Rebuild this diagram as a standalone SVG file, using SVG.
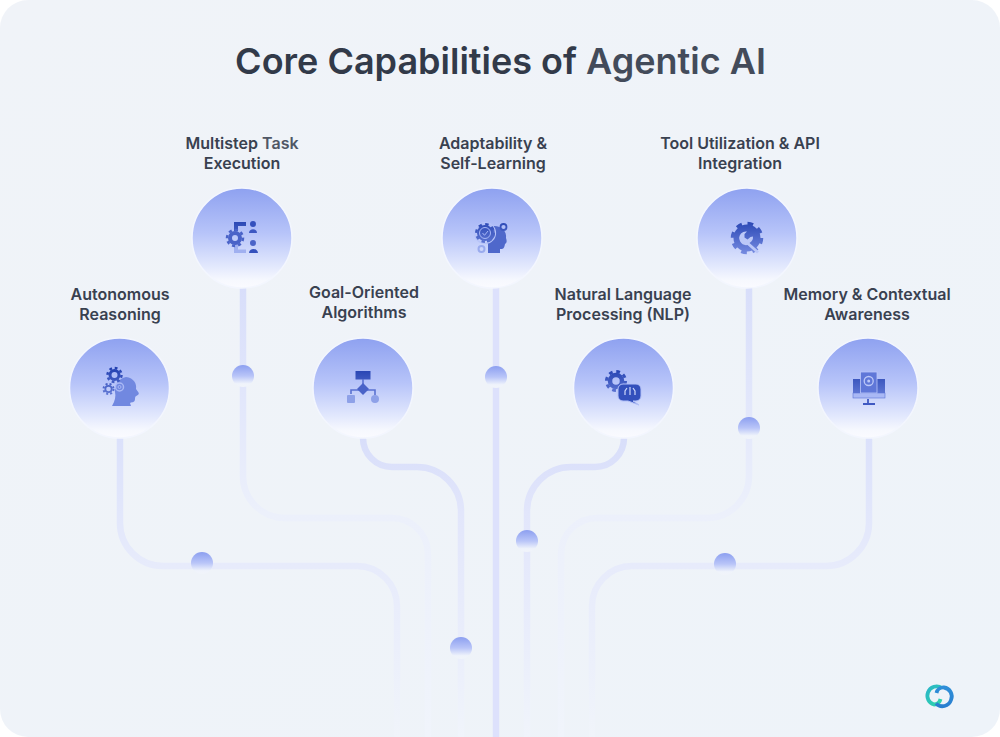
<svg xmlns="http://www.w3.org/2000/svg" width="1000" height="737" viewBox="0 0 1000 737">
<style>
text{font-family:Inter,"Noto Sans","Liberation Sans",sans-serif;font-weight:600;text-anchor:middle}
.label{font-size:16px;fill:#394150}
.title{font-size:36px;fill:#323a49}
.disc{fill:url(#disc);stroke:#f3f6fe;stroke-width:1.500}
.dot{fill:url(#dotg)}
.line{fill:none;stroke-width:6.500}
.lt{fill:url(#icT)}
.lb{fill:url(#icB)}
.st{stroke:url(#icT);fill:none}
.sb{stroke:url(#icB);fill:none}
</style>
<defs>
<linearGradient id="bg" x1="0" y1="0" x2="1" y2="1"><stop offset="0" stop-color="#f0f3f8"/><stop offset="1" stop-color="#eef3f9"/></linearGradient>
<linearGradient id="disc" x1="0" y1="0" x2="0" y2="1"><stop offset="0" stop-color="#8ea1f0"/><stop offset=".45" stop-color="#b7c4f9"/><stop offset=".78" stop-color="#e2e8fd"/><stop offset=".92" stop-color="#f6f8fe"/><stop offset="1" stop-color="#fafbff"/></linearGradient>
<linearGradient id="dotg" x1="0" y1="0" x2="0" y2="1"><stop offset="0" stop-color="#8c9ff0"/><stop offset=".5" stop-color="#b9c5f8"/><stop offset=".85" stop-color="#eff3fb"/><stop offset="1" stop-color="#f1f4fa"/></linearGradient>
<linearGradient id="icT" gradientUnits="userSpaceOnUse" x1="0" y1="218" x2="0" y2="258"><stop offset="0" stop-color="#2240b0"/><stop offset="1" stop-color="#7f93e6"/></linearGradient>
<linearGradient id="icB" gradientUnits="userSpaceOnUse" x1="0" y1="368" x2="0" y2="408"><stop offset="0" stop-color="#2240b0"/><stop offset="1" stop-color="#7f93e6"/></linearGradient>
<linearGradient id="c1" gradientUnits="userSpaceOnUse" x1="0" y1="438" x2="0" y2="737"><stop offset="0" stop-color="#dbe1fb"/><stop offset=".43" stop-color="#e7ebfb"/><stop offset=".7" stop-color="#ebeffb"/><stop offset="1" stop-color="#f0f4fa"/></linearGradient>
<linearGradient id="c2" gradientUnits="userSpaceOnUse" x1="0" y1="288" x2="0" y2="737"><stop offset="0" stop-color="#d8defa"/><stop offset=".2" stop-color="#e0e5fb"/><stop offset=".5" stop-color="#ecf0fb"/><stop offset="1" stop-color="#f0f4fb"/></linearGradient>
<linearGradient id="c3" gradientUnits="userSpaceOnUse" x1="0" y1="438" x2="0" y2="737"><stop offset="0" stop-color="#d8defa"/><stop offset=".25" stop-color="#e2e6fb"/><stop offset=".7" stop-color="#eaeefb"/><stop offset="1" stop-color="#f0f4fb"/></linearGradient>
<linearGradient id="lg1" x1="0" y1="0" x2="1" y2="1"><stop offset="0" stop-color="#2ab5c8"/><stop offset="1" stop-color="#2fd8a8"/></linearGradient>
<linearGradient id="lg2" x1="0" y1="0" x2="0" y2="1"><stop offset="0" stop-color="#2f8fd8"/><stop offset="1" stop-color="#2a7fd0"/></linearGradient>
</defs>

<rect width="1000" height="737" fill="#ffffff"/>
<rect width="1000" height="737" rx="28" fill="url(#bg)"/>

<text class="title" x="500.500" y="74">Core Capabilities of <tspan fill="#434b5a">Agentic AI</tspan></text>

<g id="connectors">
<path class="line" stroke="url(#c1)" d="M120 438V523A43 43 0 0 0 163 566H357A40 40 0 0 1 397 606V737"/>
<path class="line" stroke="url(#c2)" d="M243 288V476A42 42 0 0 0 285 518H392A36 36 0 0 1 428 554V737"/>
<path class="line" stroke="url(#c3)" d="M363 438A29 29 0 0 0 392 467H417A44 44 0 0 1 461 511V737"/>
<path class="line" stroke="#dde1fc" d="M496 288V737"/>
<path class="line" stroke="url(#c3)" d="M624 438A29 29 0 0 1 595 467H571A44 44 0 0 0 527 511V737"/>
<path class="line" stroke="url(#c2)" d="M749 288V476A42 42 0 0 1 707 518H597A36 36 0 0 0 561 554V737"/>
<path class="line" stroke="url(#c1)" d="M869 438V523A43 43 0 0 1 826 566H632A40 40 0 0 0 592 606V737"/>
<circle class="dot" cx="202" cy="563" r="11"/>
<circle class="dot" cx="243" cy="376" r="11"/>
<circle class="dot" cx="496" cy="377" r="11"/>
<circle class="dot" cx="461" cy="648" r="11"/>
<circle class="dot" cx="527" cy="541" r="11"/>
<circle class="dot" cx="749" cy="428" r="11"/>
<circle class="dot" cx="725" cy="564" r="11"/>
</g>

<g id="node-autonomous-reasoning">
<circle class="disc" cx="119.500" cy="388" r="50"/>
<path d="M126 377C134 378 137 384 136 389C138 392 140 393 138 395C136 396 135 396 135 399C135 403 131 402 130 403L131 406H112C115 401 116 396 115 392C114 386 119 378 126 377Z" fill="#7188e0"/>
<circle class="sb" cx="114.500" cy="375" r="7" stroke-width="2.500" stroke-dasharray="2.750"/>
<circle class="sb" cx="114.500" cy="375" r="4.500" stroke-width="3"/>
<circle class="sb" cx="108.500" cy="389" r="5" stroke-width="2" stroke-dasharray="2"/>
<circle class="sb" cx="108.500" cy="389" r="3.200" stroke-width="1.800"/>
<circle cx="119.500" cy="387" r="4" fill="none" stroke="#a9b8f5" stroke-width="1.500"/>
<circle cx="119.500" cy="387" r="1.500" fill="none" stroke="#a9b8f5"/>
<text class="label"><tspan x="120" y="300">Autonomous</tspan><tspan x="120" y="320">Reasoning</tspan></text>
</g>

<g id="node-multistep-task-execution">
<circle class="disc" cx="242" cy="238" r="50"/>
<path class="lt" d="M234 222H246V226H238V231H234Z"/>
<path d="M234 244H238V249.500H246V253H234Z" fill="#a0b0f0"/>
<circle cx="235" cy="238" r="8" fill="none" stroke="#4a63c8" stroke-width="2.500" stroke-dasharray="3.100"/>
<circle cx="235" cy="238" r="5" fill="none" stroke="#4a63c8" stroke-width="4"/>
<circle cx="253" cy="224" r="3" fill="#3551bd"/>
<path d="M249 233C249 228 257 228 257 233Z" fill="#3d58c2"/>
<circle cx="253" cy="243" r="3" fill="#4a63c8"/>
<path d="M249 253C249 247.500 258 247.500 258 253Z" fill="#3551bd"/>
<text class="label"><tspan x="242" y="149">Multistep <tspan fill="#4f5765">Task</tspan></tspan><tspan x="242" y="169">Execution</tspan></text>
</g>

<g id="node-goal-oriented-algorithms">
<circle class="disc" cx="363" cy="388" r="50"/>
<rect class="lb" x="355.500" y="371" width="15" height="8.500"/>
<path d="M363 379V384M351 394V390H375V395" fill="none" stroke="#5a72d2" stroke-width="1.600"/>
<path d="M363 383L369 389L363 395L357 389Z" fill="#4a63c8"/>
<rect x="347" y="395" width="8" height="8" rx="1" fill="#8ea1e8"/>
<circle cx="375" cy="399" r="4" fill="#8ea1e8"/>
<text class="label"><tspan x="364" y="298">Goal-Oriented</tspan><tspan x="364" y="318">Algorithms</tspan></text>
</g>

<g id="node-adaptability-self-learning">
<circle class="disc" cx="492" cy="238" r="50"/>
<path d="M494 226C502 226 507 232 506 238C507 241 507 243 505 244C504 249 503 249 500 249V253H488V244C485 240 488 228 494 226Z" fill="#4f68cb"/>
<circle cx="485" cy="233" r="10.500" fill="none" stroke="#b6c3f8" stroke-width="1.200"/>
<circle class="st" cx="485" cy="233" r="8.800" stroke-width="2.400" stroke-dasharray="3.450"/>
<circle class="lt" cx="485" cy="233" r="8"/>
<circle cx="485" cy="233" r="5.500" fill="none" stroke="#a7b7f6" stroke-width="1"/>
<path d="M482.500 233L484.500 235.300L488 231" fill="none" stroke="#a7b7f6" stroke-width="1"/>
<circle class="st" cx="503.500" cy="227" r="3" stroke-width="1.800"/>
<circle cx="481.500" cy="249" r="3" fill="none" stroke="#9aabee" stroke-width="2"/>
<text class="label"><tspan x="493" y="149">Adaptability &amp;</tspan><tspan x="493" y="169">Self-Learning</tspan></text>
</g>

<g id="node-natural-language-processing">
<circle class="disc" cx="623.500" cy="388" r="50"/>
<circle class="sb" cx="616" cy="381" r="9.500" stroke-width="3" stroke-dasharray="3.730"/>
<circle class="sb" cx="616" cy="381" r="6" stroke-width="4.500"/>
<path d="M623 384H636A5 5 0 0 1 641 389V396A5 5 0 0 1 636 401H633L639 405L628 401H623A5 5 0 0 1 618 396V389A5 5 0 0 1 623 384Z" fill="#3350bc" stroke="#b3c0f7"/>
<path d="M625 395V391L627 388M630 395V387M635 395V391L633 388" fill="none" stroke="#cdd7fb" stroke-width="1.200"/>
<text class="label"><tspan x="623" y="300">Natural Language</tspan><tspan x="623" y="320">Processing (NLP)</tspan></text>
</g>

<g id="node-tool-utilization">
<circle class="disc" cx="747" cy="238" r="50"/>
<circle class="st" cx="747" cy="238" r="14.500" stroke-width="3.500" stroke-dasharray="5.700"/>
<circle class="lt" cx="747" cy="238" r="13.500"/>
<path d="M747 231.500L744.500 234V237.500L747.500 239.500L750.500 237L753 236.500A7 7 0 0 1 749.500 243L759 251.500L757 253.500L747.500 245A7 7 0 0 1 741 233.500A7 7 0 0 1 747 231.500Z" fill="#bcc8f8"/>
<text class="label"><tspan x="740" y="149">Tool Utilization &amp; API</tspan><tspan x="740" y="169">Integration</tspan></text>
</g>

<g id="node-memory-contextual-awareness">
<circle class="disc" cx="868" cy="388" r="50"/>
<rect class="lb" x="853" y="379" width="32" height="14"/>
<rect x="853" y="393" width="32" height="5" fill="#a9b8f5" stroke="#5e76d6" stroke-width=".6"/>
<rect x="860.500" y="372" width="16.500" height="21" fill="#5f77d8" stroke="#b9c6f9" stroke-width=".8"/>
<circle cx="868.700" cy="381" r="4.500" fill="none" stroke="#bcc8f8" stroke-width="1.300"/>
<circle cx="868.700" cy="381" r="1.500" fill="#bcc8f8"/>
<path d="M868 399V403M863 404H875" fill="none" stroke="#3f59c2" stroke-width="1.800"/>
<text class="label"><tspan x="867" y="300">Memory &amp; Contextual</tspan><tspan x="867" y="320">Awareness</tspan></text>
</g>

<g id="logo" fill="none" stroke-width="3.800">
<path d="M942 688.200A9 9 0 0 0 928 692.500A9 9 0 0 0 934 704.500A7 7 0 0 0 940.500 699" stroke="url(#lg1)"/>
<path d="M936 703.500A9 9 0 0 0 951 700A9 9 0 0 0 944 687.500A7 7 0 0 0 936.500 693" stroke="url(#lg2)"/>
</g>
</svg>
